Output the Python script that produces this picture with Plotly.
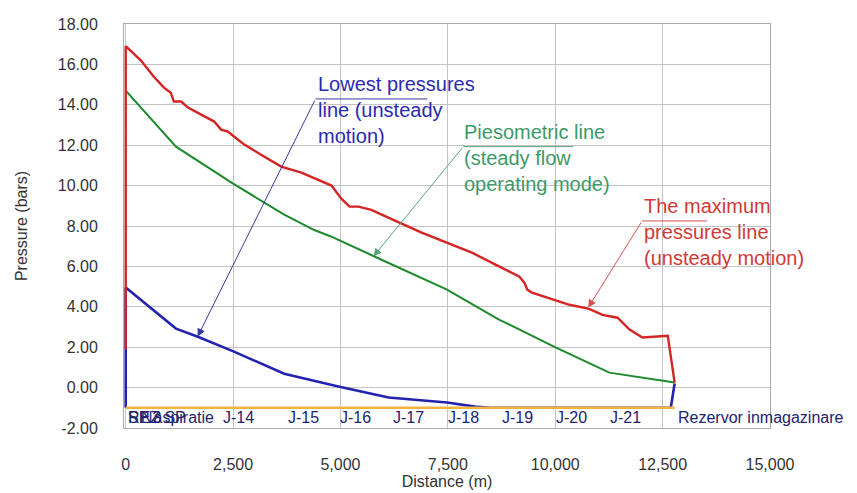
import plotly.graph_objects as go

# Distance along the pipeline (m) and pressures (bar)
max_x = [0, 0, 350, 650, 890, 1050, 1120, 1290, 1450, 1750, 2060, 2220, 2380, 2520,
         2760, 3150, 3620, 4090, 4560, 4790, 5020, 5210, 5420, 5720, 5960, 6350,
         6890, 7430, 8060, 8690, 9160, 9280, 9350, 9460, 9930, 10330, 10790,
         11100, 11450, 11730, 12030, 12620, 12780]
max_p = [1.9, 16.9, 16.2, 15.4, 14.85, 14.6, 14.16, 14.16, 13.86, 13.5, 13.17, 12.77,
         12.67, 12.43, 12.03, 11.53, 10.94, 10.64, 10.2, 10.0, 9.35, 8.96, 8.96,
         8.8, 8.56, 8.2, 7.67, 7.22, 6.68, 6.0, 5.5, 5.2, 4.85, 4.7, 4.36, 4.1,
         3.9, 3.6, 3.46, 2.87, 2.48, 2.57, 0.25]

piezo_x = [0, 1170, 2500, 3690, 4390, 4790, 5790, 7480, 8690, 9970, 11260, 12780]
piezo_p = [14.7, 11.93, 10.1, 8.56, 7.8, 7.47, 6.49, 4.85, 3.37, 2.03, 0.74, 0.25]

min_x = [0, 0, 1170, 1680, 2520, 3690, 4950, 6120, 7480, 8130, 8500, 12690, 12780]
min_p = [-1.0, 4.95, 2.92, 2.52, 1.78, 0.69, 0.05, -0.49, -0.74, -0.94, -1.0, -1.0, 0.2]

pipe_x = [0, 12780]
pipe_p = [-1.0, -1.0]

# Axis ticks
x_ticks = [0, 2500, 5000, 7500, 10000, 12500, 15000]
y_ticks = [-2, 0, 2, 4, 6, 8, 10, 12, 14, 16, 18]

# Node labels along the profile
node_names = ["REZ SP", "N3", "SP aspiratie", "J-14", "J-15", "J-16", "J-17", "J-18",
              "J-19", "J-20", "J-21", "Rezervor inmagazinare"]
node_x = [0, 300, 0, 2630, 4140, 5350, 6580, 7860, 9120, 10370, 11630, 12800]
node_anchor = ["left", "left", "left", "center", "center", "center", "center",
               "center", "center", "center", "center", "left"]

# Callouts: text, colour, arrow tip, elbow point, end of the horizontal leader
callout_text = ["Lowest pressures<br>line (unsteady<br>motion)",
                "Piesometric line<br>(steady flow<br>operating mode)",
                "The maximum<br>pressures line<br>(unsteady motion)"]
callout_color = ["#2b2bb0", "#3c9a68", "#d23a36"]
callout_line = ["#3a3aa0", "#5aa47c", "#d85050"]
callout_tip = [(1674, 2.52), (5767, 6.49), (10767, 3.96)]
callout_elbow = [(4419, 14.29), (7860, 11.93), (12023, 8.25)]
callout_leader_end = [7023, 10420, 13535]
callout_text_pos = [(4440, 13.74), (7820, 11.37), (12030, 7.70)]

fig = go.Figure()

fig.add_trace(go.Scatter(x=min_x, y=min_p, mode="lines",
                         line=dict(color="#2323b0", width=2.6), name="Lowest"))
fig.add_trace(go.Scatter(x=pipe_x, y=pipe_p, mode="lines",
                         line=dict(color="#f2b544", width=2.5), name="Pipe"))
fig.add_trace(go.Scatter(x=piezo_x, y=piezo_p, mode="lines",
                         line=dict(color="#1e8a2e", width=2), name="Piezometric"))
fig.add_trace(go.Scatter(x=max_x, y=max_p, mode="lines",
                         line=dict(color="#d42424", width=2.4), name="Maximum"))

annotations = []
for name, nx, anc in zip(node_names, node_x, node_anchor):
    annotations.append(dict(x=nx, y=-1.5, xref="x", yref="y", text=name,
                            showarrow=False, xanchor=anc, yanchor="middle",
                            font=dict(family="Liberation Sans, Arial", size=16,
                                      color="#22236e")))

shapes = []
for txt, col, lcol, tip, elb, lend, tpos in zip(callout_text, callout_color,
                                                 callout_line, callout_tip,
                                                 callout_elbow, callout_leader_end,
                                                 callout_text_pos):
    annotations.append(dict(x=tip[0], y=tip[1], ax=elb[0], ay=elb[1],
                            xref="x", yref="y", axref="x", ayref="y",
                            text="", showarrow=True, arrowhead=2, arrowsize=1.6,
                            arrowwidth=1, arrowcolor=lcol))
    shapes.append(dict(type="line", xref="x", yref="y", x0=elb[0], y0=elb[1],
                       x1=lend, y1=elb[1], line=dict(color=lcol, width=1)))
    annotations.append(dict(x=tpos[0], y=tpos[1], xref="x", yref="y", text=txt,
                            showarrow=False, xanchor="left", yanchor="middle",
                            align="left",
                            font=dict(family="Liberation Sans, Arial", size=20,
                                      color=col)))

fig.update_layout(
    width=857, height=493,
    margin=dict(l=124, r=87, t=24, b=65),
    plot_bgcolor="white", paper_bgcolor="white",
    showlegend=False,
    font=dict(family="Liberation Sans, Arial", color="#333333"),
    annotations=annotations,
    shapes=shapes,
)

# a small pad left of zero keeps the vertical line at the origin fully visible
fig.update_xaxes(range=[-40, 15000], tickvals=x_ticks,
                 ticktext=[f"{v:,d}" for v in x_ticks],
                 showgrid=True, gridcolor="#c4c4c4", gridwidth=1,
                 zeroline=False, showline=True, linecolor="#aaaaaa", mirror=True,
                 layer="below traces", automargin=False,
                 ticks="", ticklabelstandoff=22,
                 tickfont=dict(size=16, color="#333333"),
                 title=dict(text="Distance (m)", font=dict(size=16, color="#333333"),
                            standoff=3))
fig.update_yaxes(range=[-2, 18], tickvals=y_ticks,
                 ticktext=[f"{v:.2f}" for v in y_ticks],
                 showgrid=True, gridcolor="#c4c4c4", gridwidth=1, zeroline=False,
                 showline=True, linecolor="#aaaaaa", mirror=True, ticks="",
                 layer="below traces", automargin=False,
                 ticklabelstandoff=22,
                 tickfont=dict(size=16, color="#333333"),
                 title=dict(text="Pressure (bars)", font=dict(size=16, color="#333333"),
                            standoff=26))

fig.write_html("out.html")
